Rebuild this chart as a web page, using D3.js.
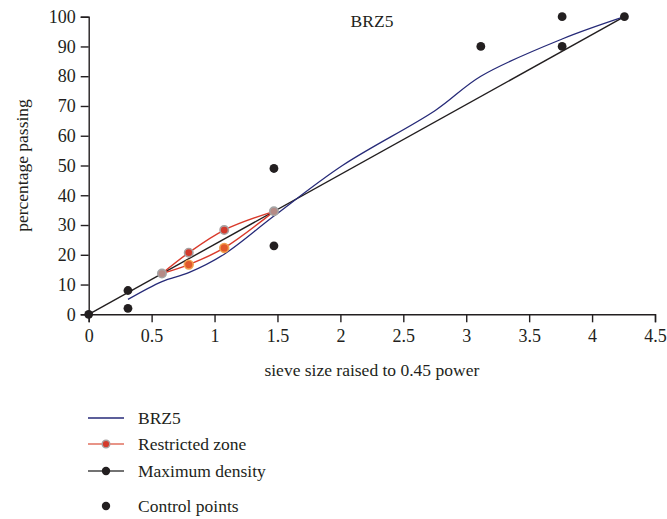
<!DOCTYPE html>
<html>
<head>
<meta charset="utf-8">
<script src="https://cdn.jsdelivr.net/npm/d3@7"></script>
<style>
html,body{margin:0;padding:0;background:#fff;}
svg{display:block;}
</style>
</head>
<body>
<svg id="chart" width="667" height="519"></svg>
<script>
// ---- data ----
const sieveX = [0.312, 0.582, 0.795, 1.077, 1.472, 2.016, 2.754, 3.116, 3.762, 4.257];
const brz5 = [5, 11, 14, 20.2, 33, 50, 68.5, 80, 92.5, 100];
const zoneX = [0.582, 0.795, 1.077, 1.472];
const zoneUpper = [13.7, 20.7, 28.3, 34.6];
const zoneLower = [13.7, 16.7, 22.3, 34.6];
const maxDensX = [0, 4.257];
const maxDensY = [0, 100];
const controlX = [0, 0.312, 0.312, 1.472, 1.472, 3.116, 3.762, 3.762, 4.257];
const controlY = [0, 2, 8, 23, 49, 90, 90, 100, 100];
const xTicks = [0, 0.5, 1, 1.5, 2, 2.5, 3, 3.5, 4, 4.5];
const yTicks = [0, 10, 20, 30, 40, 50, 60, 70, 80, 90, 100];
const legendLabels = ["BRZ5", "Restricted zone", "Maximum density", "Control points"];

// ---- layout ----
const FONT = "Liberation Serif";
const svg = d3.select("#chart");
const ink = "#231f20", blue = "#262a78", red = "#d93a2b";
const x = d3.scaleLinear().domain([0, 4.5]).range([88.7, 655]);
const y = d3.scaleLinear().domain([0, 100]).range([314.3, 16.7]);
const fs = 17.5, tfs = 18;

// axes
const xAxis = svg.append("g").attr("transform", `translate(0,${y(0)})`)
  .call(d3.axisBottom(x).tickValues(xTicks).tickSize(8).tickPadding(6).tickFormat(d3.format("")));
const yAxis = svg.append("g").attr("transform", `translate(${x(0)},0)`)
  .call(d3.axisLeft(y).tickValues(yTicks).tickSize(8).tickPadding(5));
[xAxis, yAxis].forEach(g => {
  g.attr("font-family", FONT).attr("font-size", tfs);
  g.select(".domain").attr("stroke", ink).attr("stroke-width", 1.4);
  g.selectAll(".tick line").attr("stroke", ink).attr("stroke-width", 1.4);
  g.selectAll(".tick text").attr("font-size", tfs).attr("font-family", FONT).attr("fill", ink);
});
xAxis.selectAll(".tick text").attr("dy", "0.78em");

function label(sel) { return sel.attr("font-family", FONT).attr("font-size", fs).attr("fill", ink); }

// titles
label(svg.append("text")).attr("x", x(2.25)).attr("y", 376).attr("text-anchor", "middle")
  .text("sieve size raised to 0.45 power");
label(svg.append("text")).attr("transform", `translate(28,${y(50)}) rotate(-90)`).attr("text-anchor", "middle")
  .text("percentage passing");
label(svg.append("text")).attr("x", 372).attr("y", 27).attr("text-anchor", "middle")
  .text("BRZ5");

const smooth = d3.line().x(d => x(d[0])).y(d => y(d[1])).curve(d3.curveCatmullRom.alpha(0.5));
const straight = d3.line().x(d => x(d[0])).y(d => y(d[1]));

// max density
svg.append("path").attr("d", straight(d3.zip(maxDensX, maxDensY)))
  .attr("fill", "none").attr("stroke", ink).attr("stroke-width", 1.4);

// restricted zone
[zoneUpper, zoneLower].forEach(vals => {
  svg.append("path").attr("d", smooth(d3.zip(zoneX, vals)))
    .attr("fill", "none").attr("stroke", red).attr("stroke-width", 1.4);
});

// BRZ5
svg.append("path").attr("d", smooth(d3.zip(sieveX, brz5)))
  .attr("fill", "none").attr("stroke", blue).attr("stroke-width", 1.3);

// restricted zone markers
zoneX.forEach((xv, i) => {
  if (i === 0 || i === zoneX.length - 1) {
    svg.append("circle").attr("cx", x(xv)).attr("cy", y(zoneUpper[i])).attr("r", 4.2)
      .attr("fill", "#b58a86").attr("stroke", "#a4a4a4").attr("stroke-width", 1.6);
  } else {
    svg.append("circle").attr("cx", x(xv)).attr("cy", y(zoneUpper[i])).attr("r", 4.2)
      .attr("fill", "#d43a2c").attr("stroke", "#a8a0a0").attr("stroke-width", 1.6);
    svg.append("circle").attr("cx", x(xv)).attr("cy", y(zoneLower[i])).attr("r", 4.4)
      .attr("fill", "#e2582a").attr("stroke", "#f0a050").attr("stroke-width", 1.6);
  }
});

// control points
svg.selectAll("circle.ctrl").data(d3.zip(controlX, controlY)).join("circle")
  .attr("class", "ctrl").attr("cx", d => x(d[0])).attr("cy", d => y(d[1])).attr("r", 4.4)
  .attr("fill", ink);

// legend
const lg = svg.append("g");
const rows = [418, 444, 471, 506];
const lx0 = 88, lx1 = 124, tx = 138;
lg.append("line").attr("x1", lx0).attr("x2", lx1).attr("y1", rows[0]).attr("y2", rows[0])
  .attr("stroke", blue).attr("stroke-width", 1.4);
lg.append("line").attr("x1", lx0).attr("x2", lx1).attr("y1", rows[1]).attr("y2", rows[1])
  .attr("stroke", "#e0705f").attr("stroke-width", 1.6);
lg.append("circle").attr("cx", 106).attr("cy", rows[1]).attr("r", 3.8)
  .attr("fill", "#d43a2c").attr("stroke", "#a8a0a0").attr("stroke-width", 1.4);
lg.append("line").attr("x1", lx0).attr("x2", lx1).attr("y1", rows[2]).attr("y2", rows[2])
  .attr("stroke", "#444").attr("stroke-width", 1.6);
lg.append("circle").attr("cx", 106).attr("cy", rows[2]).attr("r", 4.2).attr("fill", ink);
lg.append("circle").attr("cx", 106).attr("cy", rows[3]).attr("r", 4.2).attr("fill", ink);
legendLabels.forEach((t, i) => {
  label(lg.append("text")).attr("x", tx).attr("y", rows[i]).attr("dy", "0.32em").text(t);
});
</script>
</body>
</html>
